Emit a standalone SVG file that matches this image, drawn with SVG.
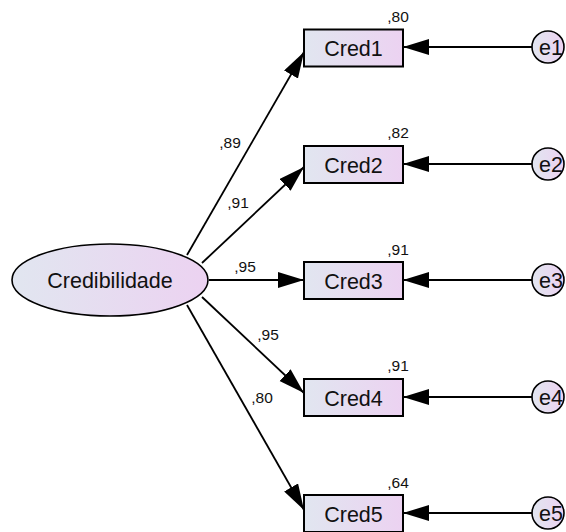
<svg xmlns="http://www.w3.org/2000/svg" width="566" height="532" viewBox="0 0 566 532">
  <style>
    .box { stroke: #000; stroke-width: 2; fill: url(#fillGrad); }
    .lat { stroke: #000; stroke-width: 1.6; fill: url(#fillGrad); }
    .err { stroke: #000; stroke-width: 1.6; fill: url(#fillGrad); }
    .path { stroke: #000; stroke-width: 1.8; fill: none; marker-end: url(#arrow); }
    .name { font-family: "Liberation Sans", Arial, sans-serif; font-size: 21.5px; fill: #111; text-anchor: middle; }
    .est { font-family: "Liberation Sans", Arial, sans-serif; font-size: 15.5px; fill: #111; text-anchor: middle; }
  </style>
  <defs>
    <linearGradient id="fillGrad" x1="0" y1="0" x2="1" y2="0">
      <stop offset="0" stop-color="#e1e6f0"/>
      <stop offset="1" stop-color="#ecd2f1"/>
    </linearGradient>
    <marker id="arrow" markerUnits="userSpaceOnUse" markerWidth="28" markerHeight="18" refX="26" refY="8" orient="auto">
      <path d="M0,0 L26,8 L0,16 Z" fill="#000"/>
    </marker>
  </defs>

  <rect width="566" height="532" fill="#fff"/>

  <!-- paths -->
  <g id="connectors">
    <line class="path" x1="187" y1="255" x2="304" y2="52"/>
    <line class="path" x1="202" y1="263" x2="304" y2="167"/>
    <line class="path" x1="209" y1="280" x2="304" y2="280"/>
    <line class="path" x1="202" y1="297" x2="304" y2="393"/>
    <line class="path" x1="187" y1="305" x2="304" y2="510"/>
    <line class="path" x1="532" y1="47" x2="403" y2="47"/>
    <line class="path" x1="532" y1="164" x2="403" y2="164"/>
    <line class="path" x1="532" y1="280" x2="403" y2="280"/>
    <line class="path" x1="532" y1="397" x2="403" y2="397"/>
    <line class="path" x1="532" y1="513" x2="403" y2="513"/>
  </g>

  <!-- path estimates -->
  <g id="loadings">
    <text class="est" x="230" y="148">,89</text>
    <text class="est" x="238" y="208">,91</text>
    <text class="est" x="245" y="272">,95</text>
    <text class="est" x="268" y="340">,95</text>
    <text class="est" x="262" y="403">,80</text>
  </g>

  <g id="Credibilidade">
    <ellipse class="lat" cx="110" cy="280" rx="98" ry="36"/>
    <text class="name" x="110" y="288">Credibilidade</text>
  </g>

  <g id="Cred1">
    <rect class="box" x="304" y="29.5" width="99" height="37"/>
    <text class="name" x="353.5" y="56">Cred1</text>
    <text class="est" x="398" y="22">,80</text>
  </g>
  <g id="Cred2">
    <rect class="box" x="304" y="146" width="99" height="37"/>
    <text class="name" x="353.5" y="172.5">Cred2</text>
    <text class="est" x="398" y="138">,82</text>
  </g>
  <g id="Cred3">
    <rect class="box" x="304" y="262" width="99" height="37"/>
    <text class="name" x="353.5" y="288.5">Cred3</text>
    <text class="est" x="398" y="255">,91</text>
  </g>
  <g id="Cred4">
    <rect class="box" x="304" y="379" width="99" height="37"/>
    <text class="name" x="353.5" y="405.5">Cred4</text>
    <text class="est" x="398" y="371">,91</text>
  </g>
  <g id="Cred5">
    <rect class="box" x="304" y="495" width="99" height="37"/>
    <text class="name" x="353.5" y="521.5">Cred5</text>
    <text class="est" x="398" y="488">,64</text>
  </g>

  <g id="e1">
    <circle class="err" cx="548" cy="47" r="16"/>
    <text class="name" x="551" y="55">e1</text>
  </g>
  <g id="e2">
    <circle class="err" cx="548" cy="164" r="16"/>
    <text class="name" x="551" y="172">e2</text>
  </g>
  <g id="e3">
    <circle class="err" cx="548" cy="280" r="16"/>
    <text class="name" x="551" y="288">e3</text>
  </g>
  <g id="e4">
    <circle class="err" cx="548" cy="397" r="16"/>
    <text class="name" x="551" y="405">e4</text>
  </g>
  <g id="e5">
    <circle class="err" cx="548" cy="513" r="16"/>
    <text class="name" x="551" y="521">e5</text>
  </g>
</svg>
